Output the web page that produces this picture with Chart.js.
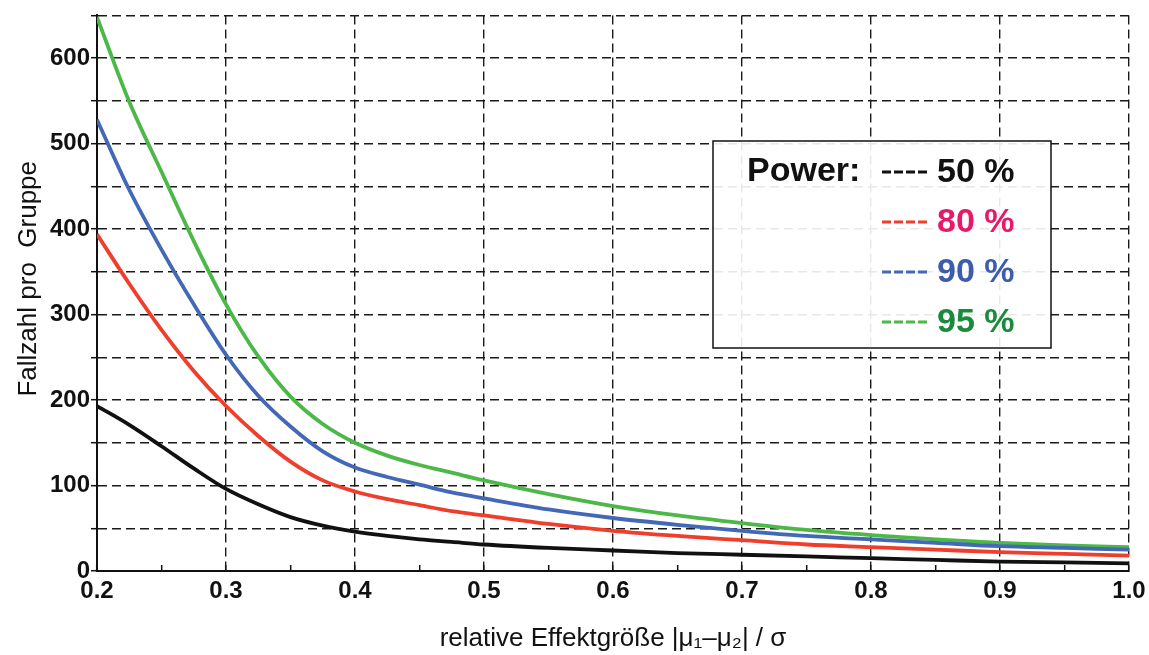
<!DOCTYPE html>
<html>
<head>
<meta charset="utf-8">
<script src="https://cdn.jsdelivr.net/npm/chart.js@4/dist/chart.umd.min.js"></script>
<style>
  html, body { margin: 0; padding: 0; background: #fff; }
  #wrap { width: 1149px; height: 655px; }
</style>
</head>
<body>
<div id="wrap"><canvas id="myChart"></canvas></div>
<script>
// effect size |mu1-mu2| / sigma
const effect = [0.2, 0.225, 0.25, 0.275, 0.3, 0.325, 0.35, 0.375, 0.4, 0.425, 0.45, 0.475, 0.5,
	0.55, 0.6, 0.65, 0.7, 0.75, 0.8, 0.85, 0.9, 0.95, 1.0];
// sample size per group
const power50 = [193, 171, 146, 120, 96, 78, 63, 53, 46, 41, 37, 34, 31, 27, 24, 21, 19, 17, 15, 13, 11, 10, 9];
const power80 = [394, 336, 282, 234, 193, 158, 128, 106, 93, 84, 77, 70, 65, 55, 47, 41, 36, 31, 28, 25, 22, 20, 18];
const power90 = [528, 446, 376, 312, 253, 205, 169, 140, 121, 110, 101, 92, 85, 72, 62, 54, 47, 41, 37, 33, 29, 27, 25];
const power95 = [648, 549, 467, 386, 312, 251, 204, 172, 150, 135, 124, 115, 106, 90, 76, 65, 56, 48, 42, 37, 33, 30, 28];
const seriesLabels = ["50 %", "80 %", "90 %", "95 %"];
const yTickStep = 100;
const xTickStep = 0.1;

const FONT = "'Liberation Sans', Arial, Helvetica, sans-serif";
const lineColors = ["#111111", "#ef3e2b", "#4268b6", "#4cb848"];
const textColors = ["#111111", "#e8196a", "#3d5cab", "#1a8a3c"];

const toPoints = (ys) => effect.map((x, i) => ({ x: x, y: ys[i] }));

const isMajorX = (v) => Math.abs(Math.round(v / xTickStep) * xTickStep - v) < 1e-6;

// box with "Power:" and the four series
const powerLegend = {
	id: "powerLegend",
	afterDraw(chart) {
		const c = chart.ctx;
		c.save();
		c.fillStyle = "rgba(255,255,255,0.9)";
		c.fillRect(713, 141, 338, 207);
		c.strokeStyle = "#111";
		c.lineWidth = 1.5;
		c.strokeRect(713, 141, 338, 207);

		c.font = "bold 34px " + FONT;
		c.textBaseline = "middle";
		c.fillStyle = "#111";
		c.fillText("Power:", 747, 172);

		chart.data.datasets.forEach((ds, i) => {
			const y = 172 + i * 50;
			c.beginPath();
			c.setLineDash([9, 3]);
			c.lineWidth = 3;
			c.strokeStyle = ds.borderColor;
			c.moveTo(882, y);
			c.lineTo(927, y);
			c.stroke();
			c.setLineDash([]);
			c.fillStyle = textColors[i];
			c.fillText(ds.label, 937, y + 1);
		});
		c.restore();
	},
};

const ctx = document.getElementById("myChart");
const myChart = new Chart(ctx, {
	type: "line",
	data: {
		datasets: [
			{ label: seriesLabels[0], data: toPoints(power50), borderColor: lineColors[0] },
			{ label: seriesLabels[1], data: toPoints(power80), borderColor: lineColors[1] },
			{ label: seriesLabels[2], data: toPoints(power90), borderColor: lineColors[2] },
			{ label: seriesLabels[3], data: toPoints(power95), borderColor: lineColors[3] },
		],
	},
	options: {
		responsive: true,
		maintainAspectRatio: false,
		animation: false,
		layout: { padding: { left: 0, right: 20, top: 14, bottom: 0 } },
		elements: {
			point: { radius: 0 },
			line: { borderWidth: 3.8, cubicInterpolationMode: "monotone", fill: false },
		},
		plugins: {
			legend: { display: false },
			tooltip: { enabled: false },
		},
		scales: {
			x: {
				type: "linear",
				min: 0.2,
				max: 1.0,
				ticks: {
					stepSize: 0.05,
					padding: 12,
					color: "#111",
					font: { family: FONT, size: 24, weight: "bold" },
					callback: (v) => (isMajorX(v) ? v.toFixed(1) : ""),
					maxRotation: 0,
					autoSkip: false,
				},
				grid: {
					color: (c) => (c.tick && isMajorX(c.tick.value) ? "#1a1a1a" : "rgba(0,0,0,0)"),
					lineWidth: 1.4,
					tickLength: -6,
					tickColor: "#111",
					tickWidth: 1.5,
				},
				border: { display: true, color: "#111", width: 2, dash: [9, 5] },
				title: {
					display: true,
					text: "relative Effektgröße |μ₁–μ₂| / σ",
					color: "#111",
					font: { family: FONT, size: 26 },
					padding: { top: 0, bottom: 1 },
				},
				afterFit: (scale) => {
					scale.height = 84;
					scale.paddingRight = 0;
				},
			},
			y: {
				min: 0,
				max: 650,
				ticks: {
					stepSize: 50,
					padding: 1,
					color: "#111",
					font: { family: FONT, size: 24, weight: "bold" },
					callback: (v) => (v % yTickStep === 0 ? v : ""),
				},
				grid: {
					color: "#1a1a1a",
					lineWidth: 1.4,
					tickLength: 6,
					tickColor: "#111",
					tickWidth: 1.5,
				},
				border: { display: true, color: "#111", width: 2, dash: [9, 5] },
				title: {
					display: true,
					text: "    Fallzahl pro  Gruppe",
					color: "#111",
					font: { family: FONT, size: 26 },
					padding: { top: 13, bottom: 0 },
				},
				afterFit: (scale) => { scale.width = 97; },
			},
		},
	},
	plugins: [powerLegend],
});
</script>
</body>
</html>
